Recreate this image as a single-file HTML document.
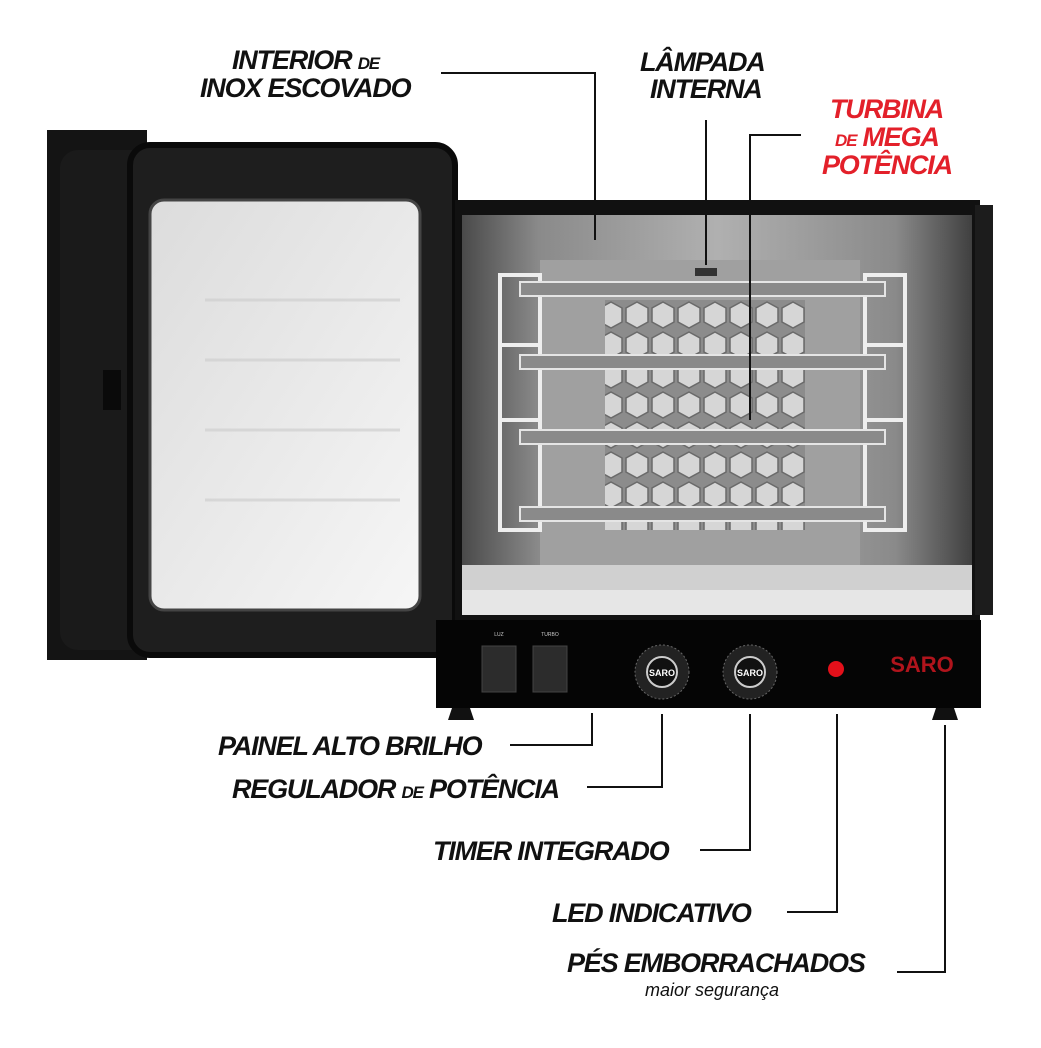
<!DOCTYPE html>
<html><head><meta charset="utf-8"><style>
html,body{margin:0;padding:0;background:#fff;width:1041px;height:1048px;overflow:hidden}
svg{display:block}
.l{font-family:"Liberation Sans",sans-serif;font-weight:bold;font-style:italic;font-size:27px;fill:#111;letter-spacing:-1.2px}
.s{font-size:17px}
.r{fill:#e3202a}
</style></head><body>
<svg width="1041" height="1048" viewBox="0 0 1041 1048">
<defs>
<linearGradient id="int" x1="0" y1="0" x2="1" y2="0">
<stop offset="0" stop-color="#4a4a4a"/><stop offset="0.15" stop-color="#8a8a8a"/><stop offset="0.5" stop-color="#b0b0b0"/><stop offset="0.85" stop-color="#8a8a8a"/><stop offset="1" stop-color="#404040"/></linearGradient>
<linearGradient id="gl" x1="0" y1="0" x2="1" y2="1">
<stop offset="0" stop-color="#dcdcdc"/><stop offset="1" stop-color="#f6f6f6"/></linearGradient>
<pattern id="hex" width="26" height="30" patternUnits="userSpaceOnUse">
<rect width="26" height="30" fill="#8c8c8c"/><path d="M13 2 L24 8 L24 22 L13 28 L2 22 L2 8Z" fill="#d6d6d6" stroke="#6a6a6a" stroke-width="1.5"/></pattern>
</defs>
<!-- door -->
<rect x="47" y="130" width="100" height="530" fill="#141414"/>
<rect x="60" y="150" width="380" height="500" rx="18" fill="#1a1a1a"/>
<rect x="130" y="145" width="325" height="510" rx="20" fill="#1e1e1e" stroke="#0a0a0a" stroke-width="6"/>
<rect x="150" y="200" width="270" height="410" rx="14" fill="url(#gl)" stroke="#444" stroke-width="3"/>
<g stroke="#cfcfcf" stroke-width="3" fill="none" opacity="0.7">
<path d="M205 300 L400 300 M205 360 L400 360 M205 430 L400 430 M205 500 L400 500"/></g>
<rect x="103" y="370" width="18" height="40" fill="#0a0a0a"/>
<!-- body -->
<rect x="455" y="200" width="525" height="420" fill="#111"/>
<rect x="975" y="205" width="18" height="410" fill="#1c1c1c"/>
<rect x="462" y="215" width="510" height="400" fill="url(#int)"/>
<rect x="540" y="260" width="320" height="305" fill="#a0a0a0"/>
<rect x="605" y="300" width="200" height="230" fill="url(#hex)"/>
<rect x="462" y="565" width="510" height="50" fill="#d0d0d0"/>
<rect x="462" y="590" width="510" height="25" fill="#e6e6e6"/>
<rect x="695" y="268" width="22" height="8" fill="#333"/>
<!-- racks -->
<g stroke="#eee" stroke-width="4" fill="none">
<path d="M500 275 L540 275 L540 530 L500 530 Z M905 275 L865 275 L865 530 L905 530Z"/>
<path d="M500 345 L540 345 M500 420 L540 420 M865 345 L905 345 M865 420 L905 420"/>
</g>
<g fill="#8a8a8a" stroke="#e5e5e5" stroke-width="2">
<rect x="520" y="282" width="365" height="14"/><rect x="520" y="355" width="365" height="14"/>
<rect x="520" y="430" width="365" height="14"/><rect x="520" y="507" width="365" height="14"/>
</g>
<!-- panel -->
<rect x="436" y="620" width="545" height="88" fill="#050505"/>
<rect x="482" y="646" width="34" height="46" fill="#2c2c2c" stroke="#444"/>
<rect x="533" y="646" width="34" height="46" fill="#2c2c2c" stroke="#444"/>
<text x="499" y="636" font-family="Liberation Sans" font-size="5" fill="#ccc" text-anchor="middle">LUZ</text>
<text x="550" y="636" font-family="Liberation Sans" font-size="5" fill="#ccc" text-anchor="middle">TURBO</text>
<circle cx="662" cy="672" r="27" fill="#222" stroke="#666" stroke-dasharray="2 2"/>
<circle cx="662" cy="672" r="15" fill="#111" stroke="#ccc" stroke-width="2"/>
<text x="662" y="676" font-family="Liberation Sans" font-size="9" font-weight="bold" fill="#fff" text-anchor="middle">SARO</text>
<circle cx="750" cy="672" r="27" fill="#222" stroke="#666" stroke-dasharray="2 2"/>
<circle cx="750" cy="672" r="15" fill="#111" stroke="#ccc" stroke-width="2"/>
<text x="750" y="676" font-family="Liberation Sans" font-size="9" font-weight="bold" fill="#fff" text-anchor="middle">SARO</text>
<circle cx="836" cy="669" r="8" fill="#e3101a"/>
<text x="922" y="672" font-family="Liberation Sans" font-size="22" font-weight="bold" fill="#b0141c" text-anchor="middle">SARO</text>
<path d="M452 708 L470 708 L474 720 L448 720Z M936 708 L954 708 L958 720 L932 720Z" fill="#111"/>
<!-- lines -->
<g stroke="#111" stroke-width="2" fill="none">
<path d="M441 73 L595 73 L595 240"/>
<path d="M706 120 L706 265"/>
<path d="M801 135 L750 135 L750 420"/>
<path d="M510 745 L592 745 L592 713"/>
<path d="M587 787 L662 787 L662 714"/>
<path d="M700 850 L750 850 L750 714"/>
<path d="M787 912 L837 912 L837 714"/>
<path d="M897 972 L945 972 L945 725"/>
</g>
<!-- labels -->
<text class="l" x="232" y="69">INTERIOR <tspan class="s">DE</tspan></text>
<text class="l" x="200" y="97">INOX ESCOVADO</text>
<text class="l" x="640" y="71">LÂMPADA</text>
<text class="l" x="650" y="98">INTERNA</text>
<text class="l r" x="830" y="118">TURBINA</text>
<text class="l r" x="835" y="146"><tspan class="s">DE</tspan> MEGA</text>
<text class="l r" x="822" y="174">POTÊNCIA</text>
<text class="l" x="218" y="755">PAINEL ALTO BRILHO</text>
<text class="l" x="232" y="798">REGULADOR <tspan class="s">DE</tspan> POTÊNCIA</text>
<text class="l" x="433" y="860">TIMER INTEGRADO</text>
<text class="l" x="552" y="922">LED INDICATIVO</text>
<text class="l" x="567" y="972">PÉS EMBORRACHADOS</text>
<text x="645" y="996" font-family="Liberation Sans" font-style="italic" font-size="18" fill="#111">maior segurança</text>
</svg>
</body></html>
